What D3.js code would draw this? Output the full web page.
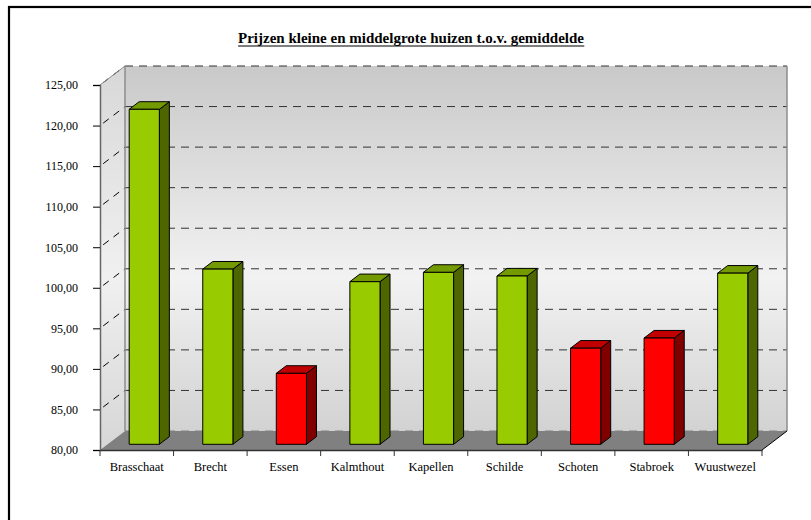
<!DOCTYPE html>
<html>
<head>
<meta charset="utf-8">
<script src="https://cdn.jsdelivr.net/npm/d3@7/dist/d3.min.js"></script>
<style>
  html, body { margin: 0; padding: 0; background: #ffffff; }
  svg { display: block; }
  text { font-family: "Liberation Serif", "Times New Roman", serif; fill: #000; }
</style>
</head>
<body>
<svg id="chart" width="811" height="520"></svg>
<script>
// Gemeenten en hun prijsindex (gemiddelde = 100)
const categories = ["Brasschaat", "Brecht", "Essen", "Kalmthout", "Kapellen", "Schilde", "Schoten", "Stabroek", "Wuustwezel"];
const values = [121.3, 101.6, 88.75, 100.05, 101.2, 100.75, 91.85, 93.1, 101.1];
const yTicks = [80, 85, 90, 95, 100, 105, 110, 115, 120, 125];
const chartTitle = "Prijzen kleine en middelgrote huizen t.o.v. gemiddelde";

const svg = d3.select("#chart");

// outer frame (only the left and top edges fall inside the page)
svg.append("rect")
  .attr("x", 9).attr("y", 7).attr("width", 1000).attr("height", 1000)
  .attr("fill", "none").attr("stroke", "#000").attr("stroke-width", 2.2);

// title
const title = svg.append("text")
  .attr("x", 411).attr("y", 43)
  .attr("text-anchor", "middle")
  .attr("font-size", "15px")
  .attr("font-weight", "bold")
  .text(chartTitle);
const tb = title.node().getBBox();
svg.append("line")
  .attr("x1", tb.x).attr("x2", tb.x + tb.width)
  .attr("y1", 46).attr("y2", 46)
  .attr("stroke", "#000").attr("stroke-width", 1.2);

// scales on the front plane
const x = d3.scaleBand().domain(categories).range([100, 762]).padding(0);
const y = d3.scaleLinear().domain([80, 125]).range([450, 85]);
const DX = 25, DY = -19;          // full depth of the 3D box
const f0 = 0.3, f1 = 0.7;          // bar depth (front, back) as fraction of box depth

const x0 = x.range()[0], x1 = x.range()[1];
const yTop = y(125), yBot = y(80);

const defs = svg.append("defs");
const grad = defs.append("linearGradient").attr("id", "wallGrad")
  .attr("x1", 0).attr("y1", 0).attr("x2", 0).attr("y2", 1);
grad.append("stop").attr("offset", "0%").attr("stop-color", "#c9c9c9");
grad.append("stop").attr("offset", "58%").attr("stop-color", "#f2f2f2");
grad.append("stop").attr("offset", "100%").attr("stop-color", "#d2d2d2");

const sideGrad = defs.append("linearGradient").attr("id", "sideGrad")
  .attr("x1", 0).attr("y1", 0).attr("x2", 0).attr("y2", 1);
sideGrad.append("stop").attr("offset", "0%").attr("stop-color", "#d8d8d8");
sideGrad.append("stop").attr("offset", "55%").attr("stop-color", "#f0f0f0");
sideGrad.append("stop").attr("offset", "100%").attr("stop-color", "#d6d6d6");

const pts = a => a.map(p => p.join(",")).join(" ");

// back wall
svg.append("polygon")
  .attr("points", pts([[x0 + DX, yTop + DY], [x1 + DX, yTop + DY], [x1 + DX, yBot + DY], [x0 + DX, yBot + DY]]))
  .attr("fill", "url(#wallGrad)").attr("stroke", "none");
// side wall
svg.append("polygon")
  .attr("points", pts([[x0, yTop], [x0 + DX, yTop + DY], [x0 + DX, yBot + DY], [x0, yBot]]))
  .attr("fill", "url(#sideGrad)").attr("stroke", "none");
// floor
svg.append("polygon")
  .attr("points", pts([[x0, yBot], [x0 + DX, yBot + DY], [x1 + DX, yBot + DY], [x1, yBot]]))
  .attr("fill", "#808080").attr("stroke", "none");

// gridlines on back wall and side wall
yTicks.forEach(t => {
  const yy = y(t);
  svg.append("line")
    .attr("x1", x0 + DX).attr("x2", x1 + DX)
    .attr("y1", yy + DY).attr("y2", yy + DY)
    .attr("stroke", t === 80 ? "#808080" : "#333")
    .attr("stroke-width", 1)
    .attr("stroke-dasharray", "8,6");
  if (t > 80) {
    svg.append("line")
      .attr("x1", x0).attr("y1", yy)
      .attr("x2", x0 + DX).attr("y2", yy + DY)
      .attr("stroke", "#000").attr("stroke-width", 1)
      .attr("stroke-dasharray", "7,6")
      .attr("stroke-dashoffset", -4);
  }
});

// box edges
svg.append("line").attr("x1", x0 + DX).attr("x2", x0 + DX).attr("y1", yTop + DY).attr("y2", yBot + DY)
  .attr("stroke", "#8c8c8c").attr("stroke-width", 1.5);
svg.append("line").attr("x1", x1 + DX).attr("x2", x1 + DX).attr("y1", yTop + DY).attr("y2", yBot + DY)
  .attr("stroke", "#8c8c8c").attr("stroke-width", 1.5);
svg.append("line").attr("x1", x0).attr("y1", yTop).attr("x2", x0 + DX).attr("y2", yTop + DY)
  .attr("stroke", "#8c8c8c").attr("stroke-width", 1);
svg.append("line").attr("x1", x1).attr("y1", yBot).attr("x2", x1 + DX).attr("y2", yBot + DY)
  .attr("stroke", "#000").attr("stroke-width", 1);

// bars
const bw = x.bandwidth() * 0.41;
const colors = v => v >= 100
  ? { front: "#99cc00", top: "#739a00", side: "#4d6600" }
  : { front: "#ff0000", top: "#c00000", side: "#800000" };

const bars = svg.append("g");
categories.forEach((c, i) => {
  const v = values[i];
  const col = colors(v);
  const cx = x(c) + x.bandwidth() / 2;
  const fx = cx - bw / 2 + DX * f0, fy = DY * f0;
  const ddx = DX * (f1 - f0), ddy = DY * (f1 - f0);
  const L = fx, R = fx + bw;
  const T = y(v) + fy, B = y(80) + fy;
  const g = bars.append("g").attr("stroke", "#000").attr("stroke-width", 1).attr("stroke-linejoin", "round");
  g.append("polygon").attr("points", pts([[R, T], [R + ddx, T + ddy], [R + ddx, B + ddy], [R, B]])).attr("fill", col.side);
  g.append("polygon").attr("points", pts([[L, T], [L + ddx, T + ddy], [R + ddx, T + ddy], [R, T]])).attr("fill", col.top);
  g.append("rect").attr("x", L).attr("y", T).attr("width", bw).attr("height", B - T).attr("fill", col.front);
});

// y axis
const yAxis = d3.axisLeft(y).tickValues(yTicks).tickSize(7).tickPadding(15)
  .tickFormat(d => d3.format(".2f")(d).replace(".", ","));
const ya = svg.append("g").attr("transform", `translate(${x0},0)`).call(yAxis);
ya.select(".domain").attr("stroke", "#666").attr("stroke-width", 1.5);
ya.selectAll(".tick line").attr("stroke", "#000");
ya.selectAll("text").attr("font-size", "12px").attr("font-family", "Liberation Serif, serif").attr("fill", "#000");

// x axis: labels centred in bands, ticks on band boundaries
const xAxis = d3.axisBottom(x).tickSize(0).tickPadding(12);
const xa = svg.append("g").attr("transform", `translate(0,${yBot})`).call(xAxis);
xa.select(".domain").attr("stroke", "#333").attr("stroke-width", 1.5);
xa.selectAll("text").attr("font-size", "12.5px").attr("font-family", "Liberation Serif, serif").attr("fill", "#000");
const bounds = categories.map(c => x(c)).concat([x1]);
xa.selectAll(".bound").data(bounds).enter().append("line")
  .attr("class", "bound")
  .attr("x1", d => d).attr("x2", d => d).attr("y1", 0).attr("y2", 6)
  .attr("stroke", "#333").attr("stroke-width", 1);
</script>
</body>
</html>
